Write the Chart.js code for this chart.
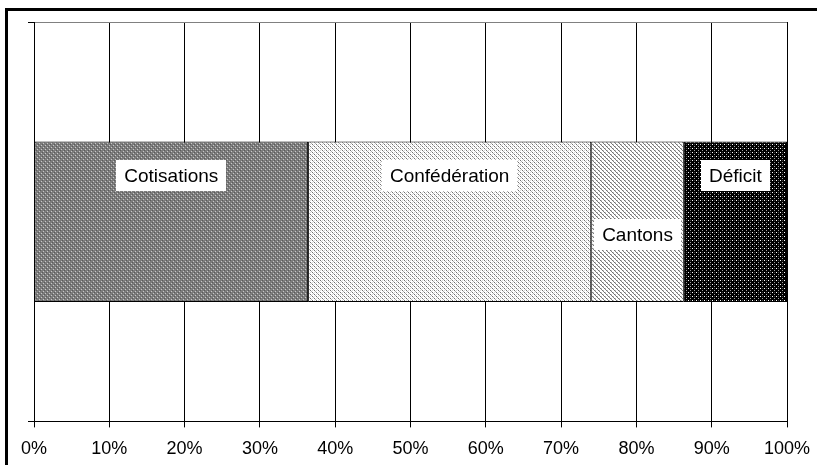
<!DOCTYPE html>
<html>
<head>
<meta charset="utf-8">
<script src="https://cdn.jsdelivr.net/npm/chart.js@4"></script>
<style>
  html, body { margin: 0; padding: 0; background: #fff; }
  #wrap { position: relative; width: 817px; height: 465px; }
</style>
</head>
<body>
<div id="wrap"><canvas id="chart" width="817" height="465"></canvas></div>
<script>
// data (share of financing, %)
const categories = [''];
const seriesNames = ['Cotisations', 'Confédération', 'Cantons', 'Déficit'];
const seriesValues = [36.4, 37.6, 12.3, 13.7];
const tickValues = [0, 10, 20, 30, 40, 50, 60, 70, 80, 90, 100];

// label box vertical offset from bar centre
const labelShift = [-46, -46, 13, -46];

// little tiles for the Excel-like fill patterns
function makePattern(base, dots) {
  const c = document.createElement('canvas');
  c.width = 4; c.height = 4;
  const g = c.getContext('2d');
  g.fillStyle = base;
  g.fillRect(0, 0, 4, 4);
  dots.forEach(d => { g.fillStyle = d[2]; g.fillRect(d[0], d[1], 1, 1); });
  return g.createPattern(c, 'repeat');
}

const ctx = document.getElementById('chart').getContext('2d');
const fills = [
  makePattern('#7c7c7c', [[1, 1, '#c8c8c8'], [3, 3, '#c8c8c8'], [0, 2, '#5a5a5a'], [2, 0, '#5a5a5a']]),
  makePattern('#ffffff', [[0, 0, '#707070'], [1, 1, '#b0b0b0'], [2, 2, '#707070'], [3, 3, '#b0b0b0'], [2, 0, '#d8d8d8'], [0, 2, '#d8d8d8']]),
  makePattern('#ffffff', [[0, 0, '#707070'], [1, 1, '#808080'], [2, 2, '#707070'], [3, 3, '#808080'], [1, 0, '#c0c0c0'], [3, 2, '#c0c0c0']]),
  makePattern('#000000', [[0, 0, '#ffffff'], [2, 2, '#a0a0a0'], [2, 0, '#404040']])
];

const frame = {
  id: 'frame',
  afterDraw(chart) {
    const c = chart.ctx;
    c.save();
    c.fillStyle = '#000';
    c.fillRect(5, 8, 812, 3);
    c.fillRect(5, 8, 3, 457);
    c.restore();
  }
};

const boxLabels = {
  id: 'boxLabels',
  afterDatasetsDraw(chart) {
    const c = chart.ctx;
    c.save();
    c.font = '19px "Liberation Sans", Arial, sans-serif';
    c.textAlign = 'center';
    c.textBaseline = 'middle';
    chart.data.datasets.forEach((ds, i) => {
      const bar = chart.getDatasetMeta(i).data[0];
      const cx = (bar.x + bar.base) / 2;
      const cy = bar.y + labelShift[i];
      const w = c.measureText(ds.label).width + 16;
      const h = 31;
      c.fillStyle = '#fff';
      c.fillRect(Math.round(cx - w / 2), Math.round(cy - h / 2), Math.round(w), h);
      c.fillStyle = '#000';
      c.fillText(ds.label, cx, cy + 1);
    });
    c.restore();
  }
};

new Chart(ctx, {
  type: 'bar',
  data: {
    labels: categories,
    datasets: seriesNames.map((name, i) => ({
      label: name,
      data: [seriesValues[i]],
      backgroundColor: fills[i],
      borderColor: '#000',
      borderWidth: 1,
      borderSkipped: false,
      barPercentage: 1,
      categoryPercentage: 0.402
    }))
  },
  options: {
    indexAxis: 'y',
    responsive: false,
    animation: false,
    layout: { padding: { left: 28, right: 30, top: 22, bottom: -6 } },
    plugins: {
      legend: { display: false },
      tooltip: { enabled: false }
    },
    scales: {
      x: {
        stacked: true,
        min: 0,
        max: 100,
        afterBuildTicks: axis => { axis.ticks = tickValues.map(v => ({ value: v })); },
        afterFit: axis => { axis.paddingLeft = 0; axis.paddingRight = 0; },
        ticks: {
          color: '#000',
          padding: 11,
          font: { family: '"Liberation Sans", Arial, sans-serif', size: 18 },
          callback: v => v + '%'
        },
        grid: { color: '#000', tickLength: 6, tickColor: '#000' },
        border: { color: '#000', width: 1 }
      },
      y: {
        stacked: true,
        ticks: { display: false },
        grid: {
          offset: true,
          tickLength: 6,
          color: c => c.index === 0 ? '#808080' : '#000',
          tickColor: '#000'
        },
        border: { color: '#000', width: 1 }
      }
    }
  },
  plugins: [frame, boxLabels]
});
</script>
</body>
</html>
